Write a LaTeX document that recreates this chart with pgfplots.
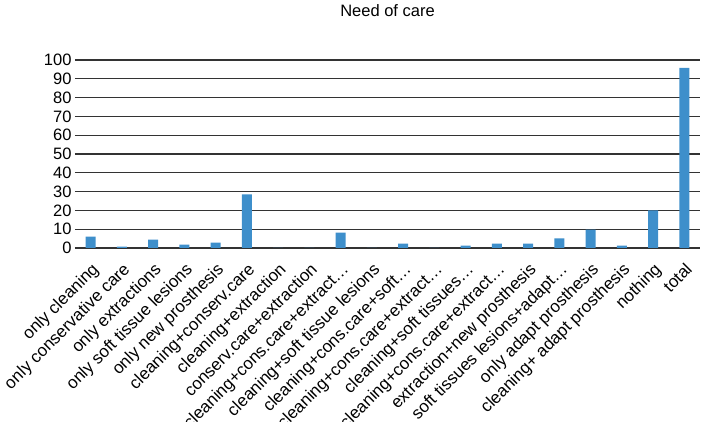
\documentclass[border=0pt]{standalone}
\usepackage{pgfplots}
\pgfplotsset{compat=1.18}
\usepackage{fontspec}
\setmainfont{Liberation Sans}
\definecolor{barblue}{RGB}{62,143,203}
\begin{document}
\begin{tikzpicture}
\begin{axis}[
  scale only axis,
  width=625pt, height=188pt,
  xmin=-0.5, xmax=19.5,
  ymin=0, ymax=100,
  ytick={0,10,...,100},
  xtick={0,...,19},
  xticklabels={only cleaning,only conservative care,only extractions,only soft tissue lesions,only new prosthesis,cleaning+conserv.care,cleaning+extraction,conserv.care+extraction,cleaning+cons.care+extract…,cleaning+soft tissue lesions,cleaning+cons.care+soft…,cleaning+cons.care+extract…,cleaning+soft tissues…,cleaning+cons.care+extract…,extraction+new prosthesis,soft tissues lesions+adapt…,only adapt prosthesis,cleaning+ adapt prosthesis,nothing,total},
  x tick label style={rotate=45, anchor=north east, inner sep=1pt, font=\fontsize{17}{19}\selectfont},
  xticklabel shift=12pt,
  y tick label style={font=\fontsize{16.5}{18}\selectfont},
  /pgf/number format/assume math mode=true,
  major tick length=0pt,
  axis line style={draw=none},
  ymajorgrids,
  major grid style={black!80, line width=1.1pt},
  title={Need of care},
  title style={at={(0.5,1)}, anchor=base, yshift=37pt, font=\fontsize{16.5}{18}\selectfont},
  ybar, bar width=10pt,
]
\addplot[fill=barblue, draw=none] coordinates {
(0,6.0) (1,0.7) (2,4.4) (3,1.8) (4,2.9) (5,28.5) (6,0) (7,0) (8,8.2) (9,0)
(10,2.3) (11,0) (12,1.2) (13,2.3) (14,2.3) (15,5.1) (16,9.8) (17,1.2) (18,20) (19,95.8)
};
\end{axis}
\pgfresetboundingbox
\path (-75pt,-174pt) rectangle (627pt,248pt);
\end{tikzpicture}
\end{document}
